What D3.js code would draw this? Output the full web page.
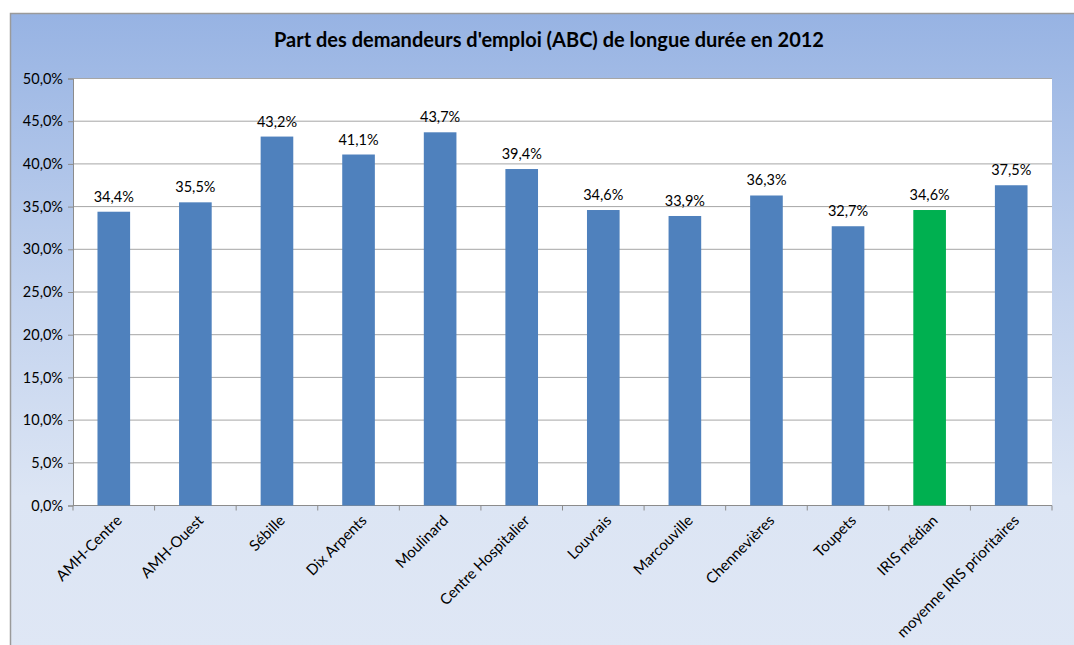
<!DOCTYPE html>
<html>
<head>
<meta charset="utf-8">
<script src="https://cdn.jsdelivr.net/npm/d3@7"></script>
<style>
  body { margin: 0; background: #fff; }
  svg { display: block; font-family: Lato, "Open Sans", sans-serif; }
</style>
</head>
<body>
<div id="chart"></div>
<script>
const categories = ["AMH-Centre", "AMH-Ouest", "Sébille", "Dix Arpents", "Moulinard", "Centre Hospitalier",
  "Louvrais", "Marcouville", "Chennevières", "Toupets", "IRIS médian", "moyenne IRIS prioritaires"];
const values = [34.4, 35.5, 43.2, 41.1, 43.7, 39.4, 34.6, 33.9, 36.3, 32.7, 34.6, 37.5];
const highlighted = ["IRIS médian"];
const yTicks = [0, 5, 10, 15, 20, 25, 30, 35, 40, 45, 50];
const title = "Part des demandeurs d'emploi (ABC) de longue durée en 2012";

const width = 1074, height = 645;
const margin = { top: 78.5, right: 22, bottom: 139.5, left: 73 };
const fmt = v => d3.format(".1f")(v).replace(".", ",") + "%";

const svg = d3.select("#chart").append("svg")
  .attr("width", width)
  .attr("height", height);

const defs = svg.append("defs");
const grad = defs.append("linearGradient")
  .attr("id", "bg")
  .attr("x1", 0).attr("y1", 0).attr("x2", 0).attr("y2", 1);
grad.append("stop").attr("offset", "0%").attr("stop-color", "#97b3e3");
grad.append("stop").attr("offset", "45%").attr("stop-color", "#c3d3ee");
grad.append("stop").attr("offset", "75%").attr("stop-color", "#dce5f4");
grad.append("stop").attr("offset", "100%").attr("stop-color", "#dfe7f5");

// chart area
svg.append("rect")
  .attr("x", 10.5).attr("y", 13.5)
  .attr("width", width).attr("height", height)
  .attr("fill", "url(#bg)")
  .attr("stroke", "#9a9a9a")
  .attr("stroke-width", 1.5);

svg.append("text")
  .attr("x", 549).attr("y", 47)
  .attr("text-anchor", "middle")
  .attr("font-size", 20)
  .attr("font-weight", "bold")
  .attr("fill", "#000")
  .text(title);

const x = d3.scaleBand(categories, [margin.left, width - margin.right])
  .paddingInner(0.6).paddingOuter(0.3);
const xb = d3.scaleBand(categories, [margin.left, width - margin.right]);
const y = d3.scaleLinear([0, 50], [height - margin.bottom, margin.top]);

// plot area
svg.append("rect")
  .attr("x", margin.left).attr("y", margin.top)
  .attr("width", width - margin.right - margin.left)
  .attr("height", y(0) - margin.top)
  .attr("fill", "#fff");

// grid
svg.append("g")
  .selectAll("line")
  .data(yTicks.filter(d => d > 0))
  .join("line")
    .attr("x1", margin.left).attr("x2", width - margin.right)
    .attr("y1", d => y(d)).attr("y2", d => y(d))
    .attr("stroke", "#a6a6a6");

// y axis
const yAxis = svg.append("g")
  .attr("transform", `translate(${margin.left},0)`)
  .call(d3.axisLeft(y).tickValues(yTicks).tickFormat(fmt).tickSize(5).tickPadding(5));
yAxis.select(".domain").attr("stroke", "#8c8c8c");
yAxis.selectAll(".tick line").attr("stroke", "#8c8c8c");
yAxis.selectAll("text").attr("font-size", 14.5).attr("font-family", "Lato, 'Open Sans', sans-serif").attr("fill", "#000");

// x axis
const xg = svg.append("g").attr("transform", `translate(0,${y(0)})`);
xg.append("line")
  .attr("x1", margin.left).attr("x2", width - margin.right)
  .attr("stroke", "#8c8c8c");
xg.selectAll("line.tick")
  .data(categories)
  .join("line")
    .attr("class", "tick")
    .attr("x1", d => xb(d) + xb.bandwidth()).attr("x2", d => xb(d) + xb.bandwidth())
    .attr("y1", 0).attr("y2", 5)
    .attr("stroke", "#8c8c8c");
xg.append("line")
  .attr("x1", margin.left).attr("x2", margin.left)
  .attr("y1", 0).attr("y2", 5)
  .attr("stroke", "#8c8c8c");
xg.selectAll("text")
  .data(categories)
  .join("text")
    .attr("text-anchor", "end")
    .attr("font-size", 15)
    .attr("fill", "#000")
    .attr("transform", d => `translate(${x(d) + x.bandwidth() / 2 + 9},${16}) rotate(-45)`)
    .text(d => d);

// bars
svg.append("g")
  .selectAll("rect")
  .data(categories.map((c, i) => ({ c, v: values[i] })))
  .join("rect")
    .attr("x", d => x(d.c))
    .attr("y", d => y(d.v))
    .attr("width", x.bandwidth())
    .attr("height", d => y(0) - y(d.v))
    .attr("fill", d => highlighted.includes(d.c) ? "#00b050" : "#4f81bd");

// value labels
svg.append("g")
  .selectAll("text")
  .data(categories.map((c, i) => ({ c, v: values[i] })))
  .join("text")
    .attr("x", d => x(d.c) + x.bandwidth() / 2)
    .attr("y", d => y(d.v) - 10)
    .attr("text-anchor", "middle")
    .attr("font-size", 14.5)
    .attr("fill", "#000")
    .text(d => fmt(d.v));
</script>
</body>
</html>
